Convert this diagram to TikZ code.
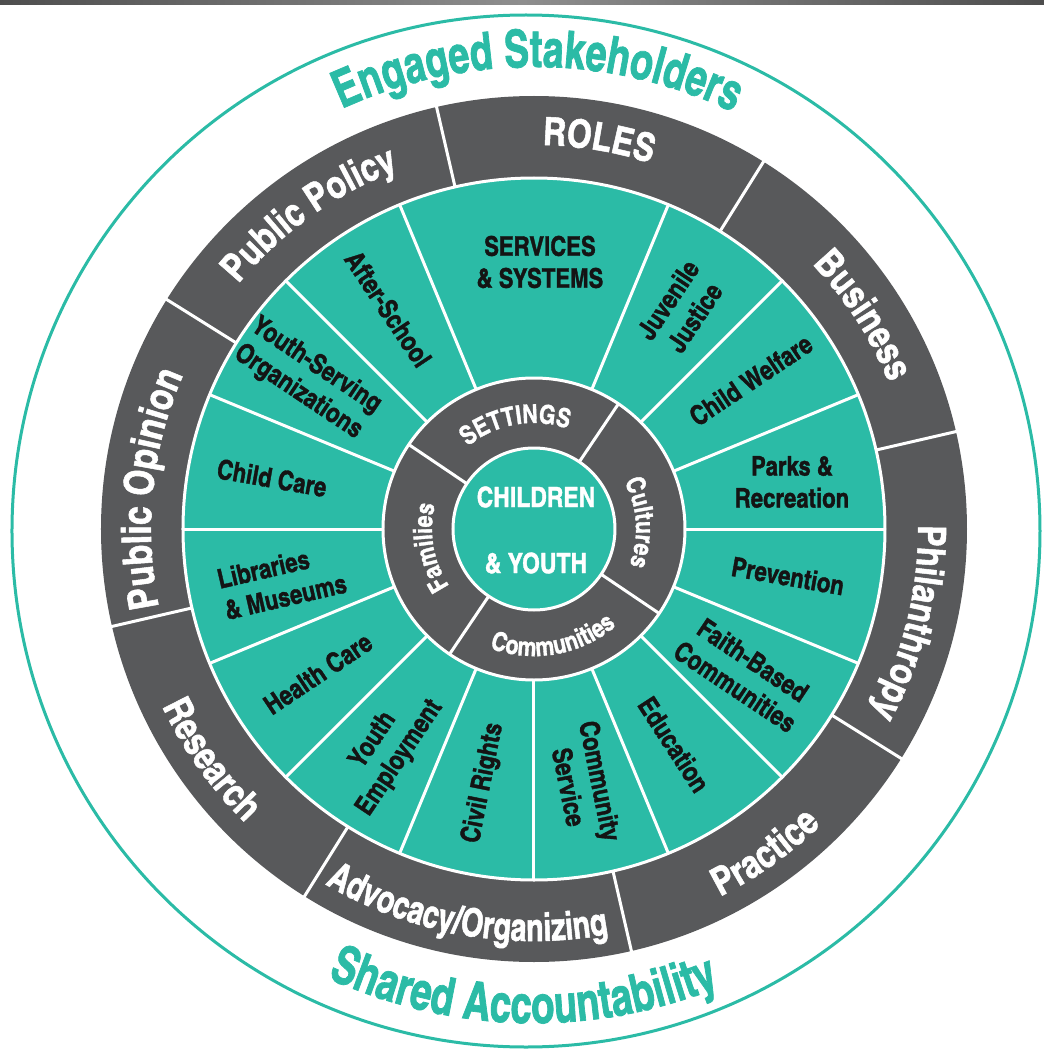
\documentclass[tikz,border=0pt]{standalone}
\usepackage{fontspec}
\newfontfamily\cf{texgyreheroscn-bold.otf}[FakeBold=1.3]
\newfontfamily\cfn{texgyreheroscn-bold.otf}[FakeBold=1.3, FakeStretch=0.9]
\newfontfamily\cfb{texgyreheroscn-bold.otf}[FakeBold=1.3, FakeStretch=0.88]
\usetikzlibrary{decorations.text}
\definecolor{teal1}{HTML}{2BBBA6}
\definecolor{wgray}{HTML}{58595B}
\definecolor{ink}{HTML}{141414}
\definecolor{barA}{HTML}{4E4E4E}
\definecolor{barB}{HTML}{8E8E8E}
\newcommand\fOuter{\cf\fontsize{39}{39}\selectfont\color{white}}
\newcommand\fOuterL{\cf\fontsize{41}{41}\selectfont\color{white}}
\newcommand\fOuterN{\cfn\fontsize{39}{39}\selectfont\color{white}}
\newcommand\fInner{\cf\fontsize{26}{26}\selectfont\color{white}}
\newcommand\fBigA{\cfb\fontsize{52}{52}\selectfont\color{teal1}}
\newcommand\fBigB{\cfb\fontsize{53}{53}\selectfont\color{teal1}}
\newcommand\arctop[4]{%
  \path[decorate, decoration={text along path, text align=center, text={|#3|#4}}]
    ({#1+70}:#2) arc[start angle={#1+70}, end angle={#1-70}, radius=#2];}
\newcommand\arcbot[4]{%
  \path[decorate, decoration={text along path, text align=center, text={|#3|#4}}]
    ({#1-70}:#2) arc[start angle={#1-70}, end angle={#1+70}, radius=#2];}
\begin{document}
\begin{tikzpicture}[x=1pt,y=1pt,
  sep/.style={white, line width=3pt},
  ringline/.style={draw=white, line width=3pt},
  lab/.style={font=\cf\fontsize{27}{32}\selectfont, text=ink, align=center, inner sep=0pt},
  ctr/.style={font=\cf\fontsize{28}{66}\selectfont, text=white, align=center, inner sep=0pt}]
\useasboundingbox (-534,-524) rectangle (510,529);
% top bar
\shade[left color=barA, right color=barA, middle color=barB] (-534,524) rectangle (510,529);
% outer teal ring
\draw[teal1, line width=3pt] (-8,-2) ellipse [x radius=514, y radius=516];
% wheel
\fill[wgray] (0,0) circle[radius=433];
\draw[ringline, fill=teal1] (0,0) circle[radius=351];
\draw[ringline, fill=wgray] (0,0) circle[radius=151];
\draw[ringline, fill=teal1] (0,0) circle[radius=81];
% separators
\foreach \a in {13,58,...,328} \draw[sep] (\a:351) -- (\a:434);
\foreach \a in {112.5,135,...,427.5} \draw[sep] (\a:151) -- (\a:351);
\foreach \a in {56,146,236,326} \draw[sep] (\a:81) -- (\a:151);
% centre
\node[ctr] (cy) at (2,-1) {CHILDREN\\\& YOUTH};
% teal ring labels
\node[lab] (ss) at (6,267) {SERVICES\\\& SYSTEMS};
\node[lab, rotate=56.25] (jj) at (56.25:265) {Juvenile\\Justice};
\node[lab, rotate=33.75] (cw) at (34.5:263) {Child Welfare};
\node[lab] (pr) at (258,47) {Parks \&\\Recreation};
\node[lab, rotate=-10] (pv) at (254,-47) {Prevention};
\node[lab, rotate=-33.75] (fb) at (-34.5:255) {Faith-Based\\Communities};
\node[lab, rotate=-57] (ed) at (-57:257) {Education};
\node[lab, rotate=-78.75] (cs) at (-78.75:260) {Community\\Service};
\node[lab, rotate=78.75] (cr) at (-101.25:259) {Civil Rights};
\node[lab, rotate=56.25] (ye) at (-123.75:265) {Youth\\Employment};
\node[lab, rotate=33.75] (hc) at (-146.25:260) {Health Care};
\node[lab, rotate=13, align=left] (lm) at (-252,-52) {Libraries\\\& Museums};
\node[lab, rotate=-10] (cc) at (-262,51) {Child Care};
\node[lab, rotate=-33.75] (ys) at (146.5:272) {Youth-Serving\\Organizations};
\node[lab, rotate=-56.25] (as) at (123.5:264) {After-School};
% inner ring labels
\arctop{100}{106}{\fInner}{SETTINGS}
\arctop{3.5}{102}{\fInner}{Cultures}
\arctop{190}{102}{\fInner}{Families}
\arcbot{280}{127}{\fInner}{Communities}
% outer ring labels
\arctop{80.5}{384}{\fOuter}{ROLES}
\arctop{33}{384}{\fOuter}{Business}
\arctop{-14}{384}{\fOuter}{Philanthropy}
\arctop{125.5}{384}{\fOuter}{Public Policy}
\arctop{174}{383}{\fOuterL}{Public Opinion}
\arcbot{215.5}{412}{\fOuter}{Research}
\arcbot{260}{412}{\fOuterN}{Advocacy/Organizing}
\arcbot{305.5}{412}{\fOuter}{Practice}
% stakeholder texts
\arctop{89.5}{462}{\fBigA}{Engaged Stakeholders}
\arcbot{268.7}{494}{\fBigB}{Shared Accountability}
\end{tikzpicture}
\end{document}
